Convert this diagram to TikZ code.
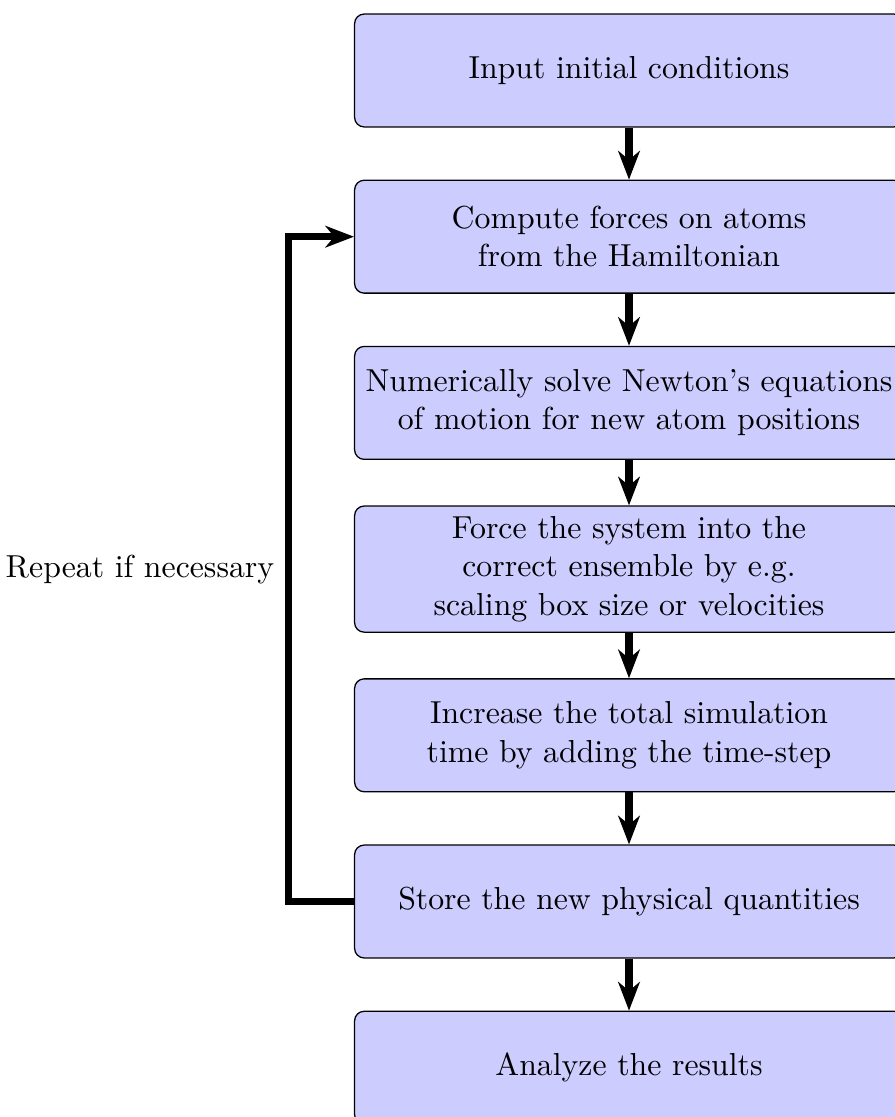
\documentclass[tikz,border=0pt]{standalone}
\usetikzlibrary{arrows.meta}
\begin{document}
\begin{tikzpicture}[x=0.3145pt,y=-0.3145pt,
  stepbox/.style={draw=black, line width=0.4pt, fill=blue!20, rounded corners=3pt,
    minimum width=172.6pt, minimum height=35.5pt, align=center, inner sep=3.33pt},
  flow/.style={line width=2.3pt, -{Stealth[length=9pt,width=6.8pt,inset=2.8pt]}}]
\useasboundingbox (0,0) rectangle (894,1117);
\node[stepbox] (n1) at (629,70.5) {Input initial conditions};
\node[stepbox] (n2) at (629,236.7) {Compute forces on atoms\\from the Hamiltonian};
\node[stepbox] (n3) at (629,402.9) {Numerically solve Newton's equations\\of motion for new atom positions};
\node[stepbox] (n4) at (629,569.1) {Force the system into the\\correct ensemble by e.g.\\scaling box size or velocities};
\node[stepbox] (n5) at (629,735.3) {Increase the total simulation\\time by adding the time-step};
\node[stepbox] (n6) at (629,901.5) {Store the new physical quantities};
\node[stepbox] (n7) at (629,1067.7) {Analyze the results};
\draw[flow] (n1.south) -- (n2.north);
\draw[flow] (n2.south) -- (n3.north);
\draw[flow] (n3.south) -- (n4.north);
\draw[flow] (n4.south) -- (n5.north);
\draw[flow] (n5.south) -- (n6.north);
\draw[flow] (n6.south) -- (n7.north);
\draw[flow] (n6.west) -- ++(-65.5,0) |- (n2.west)
  node[pos=0.25, left, xshift=0pt] (lbl) {Repeat if necessary};
\end{tikzpicture}
\end{document}
